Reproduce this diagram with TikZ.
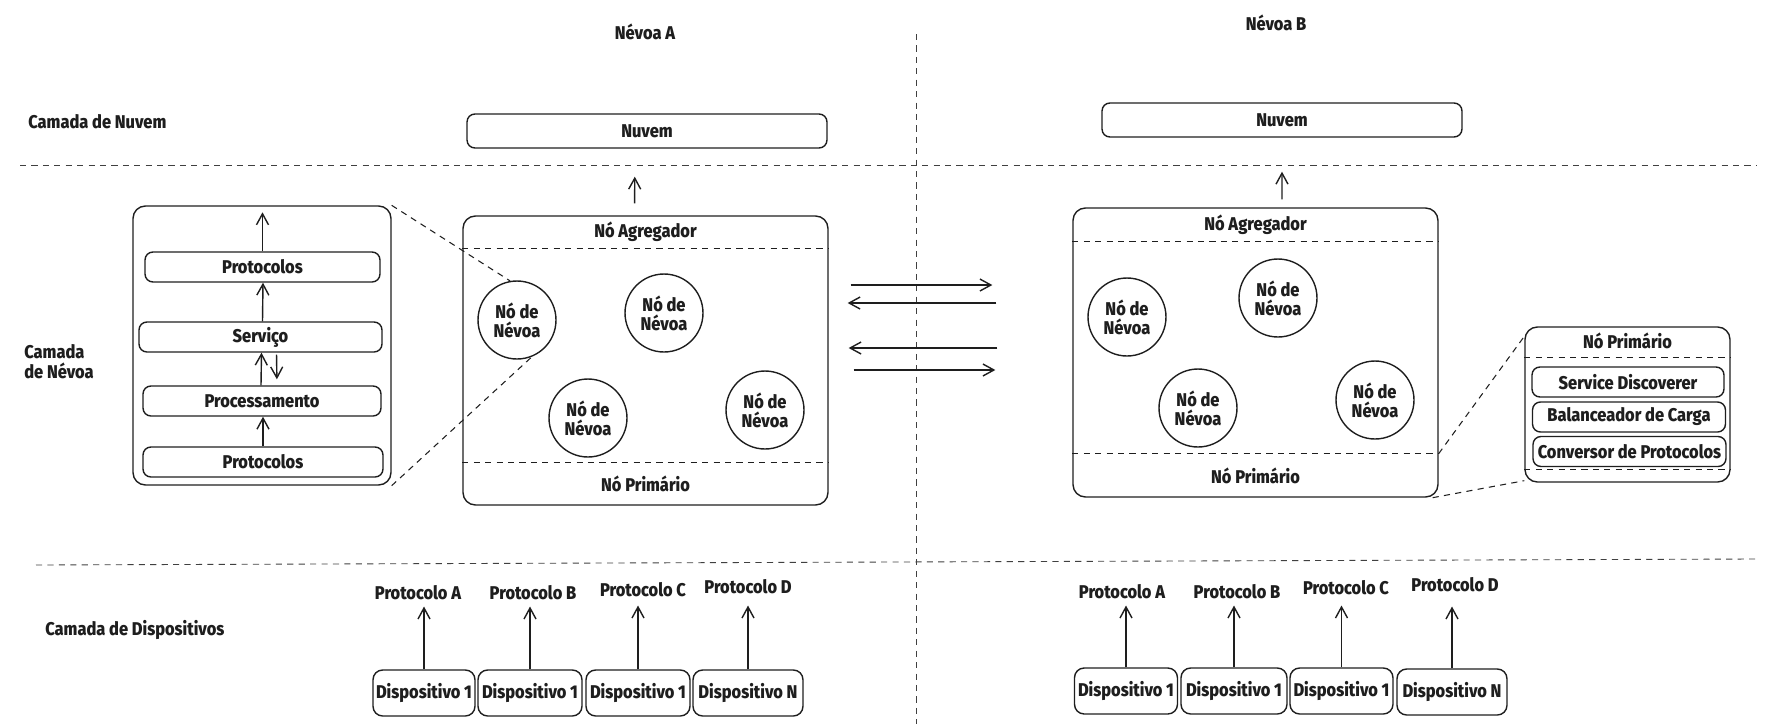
\documentclass[tikz,border=0pt]{standalone}
\usepackage{fontspec}
\setmainfont{Fira Sans}[FakeStretch=0.89, BoldFont={Fira Sans ExtraBold}]
\usetikzlibrary{positioning,arrows.meta}
\definecolor{ink}{HTML}{1E1E1E}

\begin{document}
\begin{tikzpicture}[
  x=0.02cm, y=-0.02cm,
  font=\fontsize{10.5}{11.5}\selectfont\bfseries,
  >={Straight Barb[length=2.2mm,width=2.4mm]},
  every node/.style={text=ink},
  layer/.style={anchor=west, align=left, inner sep=0pt},
  title/.style={inner sep=0pt},
  panel/.style={draw=ink, line width=0.8pt, rounded corners=7pt,
                minimum width=7.3cm, minimum height=5.78cm},
  wide/.style={draw=ink, line width=0.8pt, rounded corners=4.5pt,
               minimum width=7.2cm, minimum height=0.68cm, inner sep=0pt},
  cell/.style={draw=ink, line width=0.8pt, rounded corners=4.5pt,
               minimum width=4.8cm, minimum height=0.6cm, inner sep=0pt},
  fog/.style={draw=ink, line width=0.8pt, circle, minimum size=1.56cm,
              inner sep=0pt, align=center,
              font=\fontsize{10.5}{10.8}\selectfont\bfseries},
  dev/.style={draw=ink, line width=0.8pt, rounded corners=5.5pt,
              minimum width=2.06cm, minimum height=0.92cm, inner sep=0pt},
  flow/.style={->, line width=0.8pt, draw=ink},
  sep/.style={line width=0.6pt, draw=ink, dash pattern=on 3.5pt off 3pt},
  zoomline/.style={line width=0.6pt, draw=ink, dash pattern=on 3.5pt off 3pt},
  divider/.style={line width=0.5pt, draw=ink!85, dash pattern=on 3.5pt off 3pt},
]
\useasboundingbox (0,0) rectangle (1776,724);

% camadas
\node[title] (nevA) at (645,32) {Névoa A};
\node[title] (nevB) at (1276,23) {Névoa B};
\node[layer] (lNuv) at (28,122) {Camada de Nuvem};
\node[layer] (lNev) at (24,362) {Camada\\de Névoa};
\node[layer] (lDis) at (45,630) {Camada de Dispositivos};

\draw[divider] (20,165) -- (1756,165);
\draw[divider] (36,565) -- (1756,559);
\draw[divider] (916,34) -- (916,724);

% nuvem
\node[wide] (nuvA) at (647,131) {Nuvem};
\node[wide] (nuvB) at (1282,120) {Nuvem};

% nevoa A
\node[panel] (fogA) at (645.5,360.5) {};
\draw[sep] ([yshift=-0.66cm]fogA.north west) -- ([yshift=-0.66cm]fogA.north east);
\draw[sep] ([yshift=0.86cm]fogA.south west) -- ([yshift=0.86cm]fogA.south east);
\node[title] (agA) at ([yshift=-0.33cm]fogA.north) {Nó Agregador};
\node[title] (priA) at ([yshift=0.43cm]fogA.south) {Nó Primário};
\node[fog] (a1) at (517,320) {Nó de\\Névoa};
\node[fog] (a2) at (664,313) {Nó de\\Névoa};
\node[fog] (a3) at (588,418) {Nó de\\Névoa};
\node[fog] (a4) at (765,410) {Nó de\\Névoa};

% nevoa B
\node[panel] (fogB) at (1255.5,352.5) {};
\draw[sep] ([yshift=-0.68cm]fogB.north west) -- ([yshift=-0.68cm]fogB.north east);
\draw[sep] ([yshift=0.88cm]fogB.south west) -- ([yshift=0.88cm]fogB.south east)
  coordinate (bSep);
\node[title] (agB) at ([yshift=-0.34cm]fogB.north) {Nó Agregador};
\node[title] (priB) at ([yshift=0.44cm]fogB.south) {Nó Primário};
\node[fog] (b1) at (1127,317) {Nó de\\Névoa};
\node[fog] (b2) at (1278,298) {Nó de\\Névoa};
\node[fog] (b3) at (1198,408) {Nó de\\Névoa};
\node[fog] (b4) at (1375,400) {Nó de\\Névoa};

\draw[flow, shorten <=0.24cm, shorten >=0.56cm]
  ([xshift=-0.22cm]fogA.north) -- ([xshift=-0.24cm]nuvA.south);
\draw[flow, shorten <=0.16cm, shorten >=0.68cm]
  ([xshift=0.53cm]fogB.north) -- (nuvB.south);

% troca entre nevoas
\draw[flow, shorten <=0.44cm, shorten >=1.6cm]
  ([yshift=1.51cm]fogA.east) -- ([yshift=1.51cm]fogA.east -| fogB.west);
\draw[flow, shorten <=1.52cm, shorten >=0.38cm]
  ([yshift=1.15cm]fogA.east -| fogB.west) -- ([yshift=1.15cm]fogA.east);
\draw[flow, shorten <=1.5cm, shorten >=0.4cm]
  ([yshift=0.25cm]fogA.east -| fogB.west) -- ([yshift=0.25cm]fogA.east);
\draw[flow, shorten <=0.5cm, shorten >=1.54cm]
  ([yshift=-0.19cm]fogA.east) -- ([yshift=-0.19cm]fogA.east -| fogB.west);

% detalhe do no de nevoa
\node[panel, minimum width=5.16cm, minimum height=5.58cm] (stack) at (262,345.5) {};
\node[cell, minimum width=4.7cm] (protoT) at (262.5,267) {Protocolos};
\node[cell, minimum width=4.86cm] (serv) at (260.5,337) {Serviço};
\node[cell, minimum width=4.76cm] (proc) at (262,401) {Processamento};
\node[cell] (protoB) at (263,462) {Protocolos};

\draw[flow, shorten >=0.14cm] (protoT.north) -- (protoT.north |- stack.north);
\draw[flow] ([xshift=0.04cm]serv.north) -- ([xshift=0.01cm]protoT.south);
\draw[flow] ([xshift=-0.02cm]proc.north) -- ([xshift=0.02cm]serv.south);
\draw[flow, shorten <=0.04cm, shorten >=0.12cm]
  ([xshift=0.32cm]serv.south) -- ([xshift=0.3cm]proc.north);
\draw[flow] (protoB.north) -- ([xshift=0.02cm]proc.south);

\draw[zoomline] (stack.north east) -- (a1.100);
\draw[zoomline] (stack.south east) -- (a1.-68);

% detalhe do no primario
\node[panel, minimum width=4.1cm, minimum height=3.1cm] (prim) at (1627.5,404.5) {};
\node[title] (primT) at ([yshift=-0.3cm]prim.north) {Nó Primário};
\draw[sep] ([yshift=-0.62cm]prim.north west) -- ([yshift=-0.62cm]prim.north east);
\draw[sep] ([yshift=0.26cm]prim.south west) -- ([yshift=0.26cm]prim.south east);
\node[cell, minimum width=3.84cm] (disc) at (1628,382) {Service Discoverer};
\node[cell, minimum width=3.86cm] (bal) at (1629,417) {Balanceador de Carga};
\node[cell, minimum width=3.86cm] (conv) at (1629.5,451.5) {Conversor de Protocolos};

\draw[zoomline] (bSep) -- ([yshift=-0.2cm]prim.north west);
\draw[zoomline] ([xshift=-0.12cm]fogB.south east) -- ([yshift=0.04cm]prim.south west);

% dispositivos A
\node[dev, minimum width=2.04cm] (da1) at (424,693) {Dispositivo 1};
\node[dev, minimum width=2.08cm] (da2) at (530,693) {Dispositivo 1};
\node[dev, minimum width=2.08cm] (da3) at (638,693) {Dispositivo 1};
\node[dev, minimum width=2.2cm] (da4) at (748,693) {Dispositivo N};
\node[title] (pa1) at (418,593) {Protocolo A};
\node[title] (pa2) at (533,593) {Protocolo B};
\node[title] (pa3) at (643,590) {Protocolo C};
\node[title] (pa4) at (748,587) {Protocolo D};
\draw[flow, shorten >=0.12cm] (da1.north) -- (da1.north |- pa1.south);
\draw[flow, shorten >=0.12cm] (da2.north) -- (da2.north |- pa2.south);
\draw[flow, shorten >=0.16cm] (da3.north) -- (da3.north |- pa3.south);
\draw[flow, shorten >=0.22cm] (da4.north) -- (da4.north |- pa4.south);

% dispositivos B
\node[dev, minimum width=2.06cm] (db1) at (1126,691) {Dispositivo 1};
\node[dev, minimum width=2.12cm] (db2) at (1234,691) {Dispositivo 1};
\node[dev, minimum width=2.06cm] (db3) at (1341.5,691) {Dispositivo 1};
\node[dev, minimum width=2.2cm] (db4) at (1452,692) {Dispositivo N};
\node[title] (pb1) at (1122,592) {Protocolo A};
\node[title] (pb2) at (1237,592) {Protocolo B};
\node[title] (pb3) at (1346,588) {Protocolo C};
\node[title] (pb4) at (1455,585) {Protocolo D};
\draw[flow, shorten >=0.12cm] (db1.north) -- (db1.north |- pb1.south);
\draw[flow, shorten >=0.12cm] (db2.north) -- (db2.north |- pb2.south);
\draw[flow, shorten >=0.2cm] (db3.north) -- (db3.north |- pb3.south);
\draw[flow, shorten >=0.28cm] (db4.north) -- (db4.north |- pb4.south);
\end{tikzpicture}
\end{document}
